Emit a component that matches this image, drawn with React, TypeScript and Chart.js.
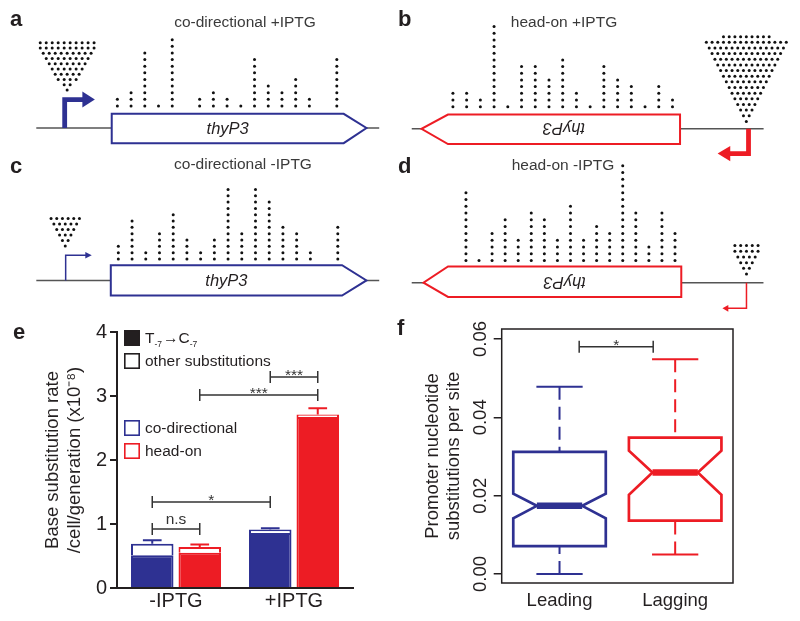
import React, { useEffect, useRef } from "react";
import { Chart, registerables } from "chart.js";

Chart.register(...registerables);

const FONT = '"Liberation Sans", Arial, Helvetica, sans-serif';
Chart.defaults.font.family = FONT;
Chart.defaults.color = "#231F20";

const INK = "#231F20";
const TITLE_INK = "#3a3a3a";
const DNA_INK = "#555555";
const BLUE = "#2E3192";
const RED = "#ED1C24";

// ---------- panels a–d : substitutions found at each promoter site (dots per column, site 0..16)
const countsCoPlus = [2, 3, 9, 1, 11, 0, 2, 3, 2, 1, 8, 4, 3, 5, 2, 0, 8];
const countsHeadPlus = [3, 3, 2, 13, 1, 7, 7, 5, 8, 3, 1, 7, 5, 4, 1, 4, 2];
const countsCoMinus = [3, 7, 2, 5, 8, 4, 2, 4, 12, 5, 12, 10, 6, 5, 2, 0, 6];
const countsHeadMinus = [11, 1, 5, 7, 4, 8, 7, 4, 9, 4, 6, 5, 15, 8, 3, 8, 5];
// promoter-strength glyphs: dots in each row, top row first
const glyphCoPlus = [10, 10, 9, 8, 7, 6, 5, 4, 2, 1];
const glyphHeadPlus = [9, 15, 14, 13, 12, 11, 10, 9, 8, 7, 6, 5, 4, 3, 2, 1];
const glyphCoMinus = [6, 5, 4, 3, 2, 1];
const glyphHeadMinus = [5, 5, 4, 3, 2, 1];

// ---------- panel e : base substitution rate (x10^-8 /cell/generation)
const conditions = ["-IPTG", "+IPTG"];
const coTC = [0.51, 0.86];
const coOther = [0.18, 0.055];
const coErr = [0.055, 0.02];
const headTC = [0.55, 2.67];
const headOther = [0.09, 0.04];
const headErr = [0.04, 0.1];
const rateTicks = [0, 1, 2, 3, 4];
// brackets: [datasetIndex, categoryIndex] ends, height in rate units
const rateBrackets = [
  { from: [1, 0], to: [3, 0], y: 0.922, label: "n.s" },
  { from: [1, 0], to: [1, 1], y: 1.344, label: "*" },
  { from: [3, 0], to: [3, 1], y: 3.016, label: "***" },
  { from: [1, 1], to: [3, 1], y: 3.297, label: "***" },
];

// ---------- panel f : promoter nucleotide substitutions per site
const strands = ["Leading", "Lagging"];
const whiskerLow = [0.0, 0.005];
const quartile1 = [0.0071, 0.0136];
const notchLow = [0.0142, 0.0202];
const medians = [0.0174, 0.0259];
const notchHigh = [0.0205, 0.0315];
const quartile3 = [0.0312, 0.0348];
const whiskerHigh = [0.0478, 0.0548];
const siteTicks = [0, 0.02, 0.04, 0.06];
const strandBracket = { from: 0.17, to: 0.81, y: 0.058, label: "*" };

type Box = { left: number; top: number; width: number; height: number };

type GeneSpec = {
  box: Box;
  letter: string;
  letterAt: [number, number];
  title: string;
  titleAt: [number, number];
  counts: number[];
  glyph: number[];
  color: string;
  headOn: boolean;
  strong: boolean;
  xRange: [number, number];
  yRange: [number, number];
  dna: { from: number; to: number; y: number };
  gene: { tail: number; shoulder: number; tip: number; top: number; bottom: number };
  promoter: { x: number; barY: number; base: number; tip: number; half: number };
  tri: { cx: number; top: number; dx: number; dy: number };
};

const geneSpecs: GeneSpec[] = [
  {
    box: { left: 0, top: 0, width: 395, height: 150 },
    letter: "a",
    letterAt: [10, 26],
    title: "co-directional +IPTG",
    titleAt: [245, 23],
    counts: countsCoPlus,
    glyph: glyphCoPlus,
    color: BLUE,
    headOn: false,
    strong: true,
    xRange: [-8.264, 19.95],
    yRange: [-5.043, 16.386],
    dna: { from: -5.91, to: 19.09, y: -2.33 },
    gene: { tail: -0.41, shoulder: 16.5, tip: 18.16, top: -0.19, bottom: -4.61 },
    promoter: { x: -3.84, barY: 1.96, base: -2.55, tip: -1.64, half: 1.21 },
    tri: { cx: -3.66, top: 10.53, dx: 0.436, dy: 0.79 },
  },
  {
    box: { left: 395, top: 0, width: 405, height: 170 },
    letter: "b",
    letterAt: [3, 26],
    title: "head-on +IPTG",
    titleAt: [169, 23],
    counts: countsHeadPlus,
    glyph: glyphHeadPlus,
    color: RED,
    headOn: true,
    strong: true,
    xRange: [-3.929, 25],
    yRange: [-7.9, 16.386],
    dna: { from: -3.0, to: 22.64, y: -2.33 },
    gene: { tail: 16.55, shoulder: -0.36, tip: -2.29, top: -0.19, bottom: -4.61 },
    promoter: { x: 21.54, barY: -6.04, base: 20.21, tip: 19.29, half: 1.14 },
    tri: { cx: 21.38, top: 11.49, dx: 0.416, dy: 0.847 },
  },
  {
    box: { left: 0, top: 150, width: 395, height: 155 },
    letter: "c",
    letterAt: [10, 23],
    title: "co-directional -IPTG",
    titleAt: [243, 15],
    counts: countsCoMinus,
    glyph: glyphCoMinus,
    color: BLUE,
    headOn: false,
    strong: false,
    xRange: [-8.336, 19.879],
    yRange: [-5.64, 17.6],
    dna: { from: -5.98, to: 19.02, y: -2.39 },
    gene: { tail: -0.55, shoulder: 16.31, tip: 18.09, top: 0.01, bottom: -4.79 },
    promoter: { x: -3.84, barY: 1.6, base: -2.41, tip: -1.94, half: 0.52 },
    tri: { cx: -3.87, top: 7.4, dx: 0.414, dy: 0.87 },
  },
  {
    box: { left: 395, top: 150, width: 405, height: 170 },
    letter: "d",
    letterAt: [3, 23],
    title: "head-on -IPTG",
    titleAt: [168, 16],
    counts: countsHeadMinus,
    glyph: glyphHeadMinus,
    color: RED,
    headOn: true,
    strong: false,
    xRange: [-5.124, 25.26],
    yRange: [-7.21, 16.73],
    dna: { from: -4.15, to: 22.77, y: -2.28 },
    gene: { tail: 16.48, shoulder: -1.37, tip: -3.25, top: 0.11, bottom: -4.39 },
    promoter: { x: 21.47, barY: -6.08, base: 20.08, tip: 19.63, half: 0.49 },
    tri: { cx: 21.47, top: 3.21, dx: 0.443, dy: 0.845 },
  },
];

const dotPoints = (counts: number[]) =>
  counts.flatMap((n, site) => Array.from({ length: n }, (_, k) => ({ x: site, y: k + 1 })));

const glyphPoints = (rows: number[], t: GeneSpec["tri"]) =>
  rows.flatMap((n, r) =>
    Array.from({ length: n }, (_, j) => ({ x: t.cx + (j - (n - 1) / 2) * t.dx, y: t.top - r * t.dy }))
  );

function drawLetter(ctx: CanvasRenderingContext2D, letter: string, x: number, y: number) {
  ctx.save();
  ctx.font = `bold 22px ${FONT}`;
  ctx.fillStyle = INK;
  ctx.textAlign = "left";
  ctx.textBaseline = "alphabetic";
  ctx.fillText(letter, x, y);
  ctx.restore();
}

function geneMapPlugin(s: GeneSpec) {
  return {
    id: "geneMap",
    beforeDatasetsDraw(chart: any) {
      const ctx: CanvasRenderingContext2D = chart.ctx;
      const X = (v: number) => chart.scales.x.getPixelForValue(v);
      const Y = (v: number) => chart.scales.y.getPixelForValue(v);
      const g = s.gene;
      const p = s.promoter;
      ctx.save();
      // DNA line
      ctx.strokeStyle = DNA_INK;
      ctx.lineWidth = 1.5;
      ctx.beginPath();
      ctx.moveTo(X(s.dna.from), Y(s.dna.y));
      ctx.lineTo(X(s.dna.to), Y(s.dna.y));
      ctx.stroke();
      // promoter arrow
      ctx.strokeStyle = s.color;
      ctx.fillStyle = s.color;
      ctx.lineWidth = s.strong ? 4.8 : 1.5;
      ctx.lineJoin = "miter";
      ctx.lineCap = "butt";
      const dir = p.tip > p.base ? 1 : -1;
      ctx.beginPath();
      ctx.moveTo(X(p.x), Y(s.dna.y));
      ctx.lineTo(X(p.x), Y(p.barY));
      ctx.lineTo(X(p.base) + dir, Y(p.barY));
      ctx.stroke();
      ctx.beginPath();
      ctx.moveTo(X(p.base), Y(p.barY + p.half));
      ctx.lineTo(X(p.tip), Y(p.barY));
      ctx.lineTo(X(p.base), Y(p.barY - p.half));
      ctx.closePath();
      ctx.fill();
      // gene arrow
      ctx.beginPath();
      ctx.moveTo(X(g.tail), Y(g.top));
      ctx.lineTo(X(g.shoulder), Y(g.top));
      ctx.lineTo(X(g.tip), Y(s.dna.y));
      ctx.lineTo(X(g.shoulder), Y(g.bottom));
      ctx.lineTo(X(g.tail), Y(g.bottom));
      ctx.closePath();
      ctx.fillStyle = "#ffffff";
      ctx.fill();
      ctx.strokeStyle = s.color;
      ctx.lineWidth = 2;
      ctx.stroke();
      // gene name
      ctx.translate((X(g.tail) + X(g.shoulder)) / 2, Y(s.dna.y));
      if (s.headOn) ctx.rotate(Math.PI);
      ctx.font = `italic 16.5px ${FONT}`;
      ctx.textAlign = "center";
      ctx.textBaseline = "middle";
      ctx.fillStyle = INK;
      ctx.fillText("thyP3", 0, 1);
      ctx.restore();
    },
    afterDraw(chart: any) {
      const ctx: CanvasRenderingContext2D = chart.ctx;
      ctx.save();
      ctx.font = `15.5px ${FONT}`;
      ctx.fillStyle = TITLE_INK;
      ctx.textAlign = "center";
      ctx.textBaseline = "middle";
      ctx.fillText(s.title, s.titleAt[0], s.titleAt[1]);
      ctx.restore();
      drawLetter(ctx, s.letter, s.letterAt[0], s.letterAt[1]);
    },
  };
}

function geneConfig(s: GeneSpec): any {
  return {
    type: "scatter",
    data: {
      datasets: [
        { data: dotPoints(s.counts), pointRadius: 1.5, backgroundColor: "#111111", borderWidth: 0 },
        { data: glyphPoints(s.glyph, s.tri), pointRadius: 1.5, backgroundColor: "#111111", borderWidth: 0 },
      ],
    },
    options: {
      responsive: false,
      animation: false,
      events: [],
      layout: { padding: 0 },
      plugins: { legend: { display: false }, tooltip: { enabled: false } },
      scales: {
        x: { type: "linear", display: false, min: s.xRange[0], max: s.xRange[1] },
        y: { type: "linear", display: false, min: s.yRange[0], max: s.yRange[1] },
      },
    },
    plugins: [geneMapPlugin(s)],
  };
}

// ---------- panel e
const rateExtras = {
  id: "rateExtras",
  afterDatasetsDraw(chart: any) {
    const ctx: CanvasRenderingContext2D = chart.ctx;
    const y = chart.scales.y;
    const groups = [
      { ds: 1, tc: coTC, other: coOther, err: coErr, color: BLUE },
      { ds: 3, tc: headTC, other: headOther, err: headErr, color: RED },
    ];
    ctx.save();
    groups.forEach((g) => {
      chart.getDatasetMeta(g.ds).data.forEach((el: any, i: number) => {
        const top = y.getPixelForValue(g.tc[i] + g.other[i]);
        const end = y.getPixelForValue(g.tc[i] + g.other[i] + g.err[i]);
        const cap = el.width * 0.22;
        ctx.strokeStyle = g.color;
        ctx.lineWidth = 2;
        ctx.beginPath();
        ctx.moveTo(el.x, top);
        ctx.lineTo(el.x, end);
        ctx.moveTo(el.x - cap, end);
        ctx.lineTo(el.x + cap, end);
        ctx.stroke();
      });
    });
    // significance brackets
    ctx.strokeStyle = "#333333";
    ctx.fillStyle = "#333333";
    ctx.lineWidth = 1.5;
    ctx.font = `15.5px ${FONT}`;
    ctx.textAlign = "center";
    ctx.textBaseline = "alphabetic";
    rateBrackets.forEach((b) => {
      const x1 = chart.getDatasetMeta(b.from[0]).data[b.from[1]].x;
      const x2 = chart.getDatasetMeta(b.to[0]).data[b.to[1]].x;
      const yy = y.getPixelForValue(b.y);
      ctx.beginPath();
      ctx.moveTo(x1, yy);
      ctx.lineTo(x2, yy);
      ctx.moveTo(x1, yy - 6);
      ctx.lineTo(x1, yy + 6);
      ctx.moveTo(x2, yy - 6);
      ctx.lineTo(x2, yy + 6);
      ctx.stroke();
      const starOnly = /^\*+$/.test(b.label);
      ctx.fillText(b.label, (x1 + x2) / 2, starOnly ? yy + 3 : yy - 5);
    });
    ctx.restore();
  },
  afterDraw(chart: any) {
    const ctx: CanvasRenderingContext2D = chart.ctx;
    const { left, top } = chart.chartArea;
    const sx = left + 7;
    const tx = left + 28;
    const items = [
      { dy: -2, fill: INK, stroke: INK, text: null as string | null },
      { dy: 21, fill: "#ffffff", stroke: INK, text: "other substitutions" },
      { dy: 88, fill: "#ffffff", stroke: BLUE, text: "co-directional" },
      { dy: 111, fill: "#ffffff", stroke: RED, text: "head-on" },
    ];
    ctx.save();
    items.forEach((it) => {
      const sy = top + it.dy;
      ctx.fillStyle = it.fill;
      ctx.fillRect(sx, sy, 16, 16);
      ctx.strokeStyle = it.stroke;
      ctx.lineWidth = 1.6;
      ctx.strokeRect(sx + 0.8, sy + 0.8, 14.4, 14.4);
      ctx.fillStyle = INK;
      ctx.textAlign = "left";
      ctx.textBaseline = "middle";
      const cy = sy + 8.5;
      if (it.text) {
        ctx.font = `15.5px ${FONT}`;
        ctx.fillText(it.text, tx, cy);
      } else {
        let x = tx;
        const big = `15.5px ${FONT}`;
        const small = `8.5px ${FONT}`;
        const parts = [
          { t: "T", f: big, d: 0 },
          { t: "-7", f: small, d: 6 },
          { t: "\u2192", f: big, d: 0 },
          { t: "C", f: big, d: 0 },
          { t: "-7", f: small, d: 6 },
        ];
        parts.forEach((p) => {
          ctx.font = p.f;
          ctx.fillText(p.t, x, cy + p.d);
          x += ctx.measureText(p.t).width + (p.d ? 1 : 0);
        });
      }
    });
    ctx.restore();
    drawLetter(ctx, "e", 13, 38.5);
  },
};

function rateConfig(): any {
  return {
    type: "bar",
    data: {
      labels: conditions,
      datasets: [
        { label: "T-7→C-7 co-directional", data: coTC, stack: "co", backgroundColor: BLUE, borderColor: BLUE, borderWidth: 2 },
        { label: "other co-directional", data: coOther, stack: "co", backgroundColor: "#ffffff", borderColor: BLUE, borderWidth: 2 },
        { label: "T-7→C-7 head-on", data: headTC, stack: "head", backgroundColor: RED, borderColor: RED, borderWidth: 2 },
        { label: "other head-on", data: headOther, stack: "head", backgroundColor: "#ffffff", borderColor: RED, borderWidth: 2 },
      ],
    },
    options: {
      responsive: false,
      animation: false,
      events: [],
      layout: { padding: { left: 0, top: 32, right: 42, bottom: 0 } },
      datasets: { bar: { categoryPercentage: 0.805, barPercentage: 0.895 } },
      plugins: { legend: { display: false }, tooltip: { enabled: false } },
      scales: {
        x: {
          stacked: true,
          grid: { display: false, drawTicks: false },
          border: { display: true, color: INK, width: 2 },
          ticks: { font: { size: 20 }, color: INK, padding: 1.5 },
          afterFit: (s: any) => {
            s.height = 33;
          },
        },
        y: {
          stacked: true,
          min: 0,
          max: 4,
          afterBuildTicks: (s: any) => {
            s.ticks = rateTicks.map((v) => ({ value: v }));
          },
          grid: { display: true, drawOnChartArea: false, drawTicks: true, tickLength: 7, color: INK, lineWidth: 2 },
          border: { display: true, color: INK, width: 2 },
          ticks: { font: { size: 20 }, color: INK, padding: 3 },
          title: {
            display: true,
            text: ["Base substitution rate", "/cell/generation (x10\u207B\u2078)"],
            font: { size: 18.5, lineHeight: 1.2 },
            color: INK,
            padding: { top: 42, bottom: 0 },
          },
          afterFit: (s: any) => {
            s.width = 117;
          },
        },
      },
    },
    plugins: [rateExtras],
  };
}

// ---------- panel f
const notchedBoxes = {
  id: "notchedBoxes",
  afterDatasetsDraw(chart: any) {
    const ctx: CanvasRenderingContext2D = chart.ctx;
    const ca = chart.chartArea;
    const y = chart.scales.y;
    const x = chart.scales.x;
    const Y = (v: number) => y.getPixelForValue(v);
    const colors = [BLUE, RED];
    ctx.save();
    chart.getDatasetMeta(0).data.forEach((el: any, i: number) => {
      const cx = el.x;
      const hw = el.width / 2;
      const nw = hw * 0.49;
      ctx.strokeStyle = colors[i];
      // whiskers
      ctx.lineWidth = 2;
      ctx.setLineDash([13, 7]);
      ctx.beginPath();
      ctx.moveTo(cx, Y(whiskerHigh[i]));
      ctx.lineTo(cx, Y(quartile3[i]));
      ctx.moveTo(cx, Y(whiskerLow[i]));
      ctx.lineTo(cx, Y(quartile1[i]));
      ctx.stroke();
      ctx.setLineDash([]);
      ctx.beginPath();
      ctx.moveTo(cx - hw / 2, Y(whiskerHigh[i]));
      ctx.lineTo(cx + hw / 2, Y(whiskerHigh[i]));
      ctx.moveTo(cx - hw / 2, Y(whiskerLow[i]));
      ctx.lineTo(cx + hw / 2, Y(whiskerLow[i]));
      ctx.stroke();
      // notched box
      ctx.lineWidth = 2.7;
      ctx.lineJoin = "miter";
      ctx.beginPath();
      ctx.moveTo(cx - hw, Y(quartile3[i]));
      ctx.lineTo(cx + hw, Y(quartile3[i]));
      ctx.lineTo(cx + hw, Y(notchHigh[i]));
      ctx.lineTo(cx + nw, Y(medians[i]));
      ctx.lineTo(cx + hw, Y(notchLow[i]));
      ctx.lineTo(cx + hw, Y(quartile1[i]));
      ctx.lineTo(cx - hw, Y(quartile1[i]));
      ctx.lineTo(cx - hw, Y(notchLow[i]));
      ctx.lineTo(cx - nw, Y(medians[i]));
      ctx.lineTo(cx - hw, Y(notchHigh[i]));
      ctx.closePath();
      ctx.stroke();
      // median
      ctx.lineWidth = 6.5;
      ctx.lineCap = "butt";
      ctx.beginPath();
      ctx.moveTo(cx - nw, Y(medians[i]));
      ctx.lineTo(cx + nw, Y(medians[i]));
      ctx.stroke();
    });
    // frame
    ctx.strokeStyle = INK;
    ctx.lineWidth = 1.5;
    ctx.strokeRect(ca.left, ca.top, ca.right - ca.left, ca.bottom - ca.top);
    // bracket
    const b = strandBracket;
    const x1 = x.getPixelForValue(b.from);
    const x2 = x.getPixelForValue(b.to);
    const yy = Y(b.y);
    ctx.strokeStyle = "#333333";
    ctx.lineWidth = 1.5;
    ctx.beginPath();
    ctx.moveTo(x1, yy);
    ctx.lineTo(x2, yy);
    ctx.moveTo(x1, yy - 6);
    ctx.lineTo(x1, yy + 6);
    ctx.moveTo(x2, yy - 6);
    ctx.lineTo(x2, yy + 6);
    ctx.stroke();
    ctx.fillStyle = "#333333";
    ctx.font = `15.5px ${FONT}`;
    ctx.textAlign = "center";
    ctx.textBaseline = "alphabetic";
    ctx.fillText(b.label, (x1 + x2) / 2, yy + 3);
    ctx.restore();
  },
  afterDraw(chart: any) {
    drawLetter(chart.ctx, "f", 2, 35);
  },
};

function strandConfig(): any {
  return {
    type: "bar",
    data: {
      labels: strands,
      datasets: [
        {
          label: "IQR",
          data: strands.map((_, i) => [quartile1[i], quartile3[i]]),
          backgroundColor: "rgba(0,0,0,0)",
          borderWidth: 0,
          barPercentage: 0.8,
          categoryPercentage: 1,
        },
      ],
    },
    options: {
      responsive: false,
      animation: false,
      events: [],
      layout: { padding: { left: 0, top: 29, right: 67, bottom: 0 } },
      plugins: { legend: { display: false }, tooltip: { enabled: false } },
      scales: {
        x: {
          grid: { display: false, drawTicks: false },
          border: { display: false },
          ticks: { font: { size: 18.5 }, color: INK, padding: 7 },
          afterFit: (s: any) => {
            s.height = 38;
          },
        },
        y: {
          min: -0.0023,
          max: 0.06255,
          afterBuildTicks: (s: any) => {
            s.ticks = siteTicks.map((v) => ({ value: v }));
          },
          grid: { display: true, drawOnChartArea: false, drawTicks: true, tickLength: 8, color: INK, lineWidth: 1.5 },
          border: { display: false },
          ticks: {
            font: { size: 18.5 },
            color: INK,
            minRotation: 90,
            maxRotation: 90,
            crossAlign: "center",
            padding: -5,
            callback: (v: any) => Number(v).toFixed(2),
          },
          title: {
            display: true,
            text: ["Promoter nucleotide", "substitutions per site"],
            font: { size: 18.5, lineHeight: 1.1 },
            color: INK,
            padding: { top: 28, bottom: 0 },
          },
          afterFit: (s: any) => {
            s.width = 106.7;
          },
        },
      },
    },
    plugins: [notchedBoxes],
  };
}

function ChartCanvas({ box, build }: { box: Box; build: () => any }) {
  const ref = useRef<HTMLCanvasElement | null>(null);
  useEffect(() => {
    if (!ref.current) return;
    const chart = new Chart(ref.current, build());
    return () => chart.destroy();
  }, []);
  return (
    <canvas
      ref={ref}
      width={box.width}
      height={box.height}
      style={{ position: "absolute", left: box.left, top: box.top, width: box.width, height: box.height }}
    />
  );
}

export default function App() {
  return (
    <div
      style={{
        position: "absolute",
        left: 0,
        top: 0,
        width: 800,
        height: 621,
        background: "#ffffff",
        overflow: "hidden",
      }}
    >
      {geneSpecs.map((s) => (
        <ChartCanvas key={s.letter} box={s.box} build={() => geneConfig(s)} />
      ))}
      <ChartCanvas box={{ left: 0, top: 300, width: 395, height: 321 }} build={rateConfig} />
      <ChartCanvas box={{ left: 395, top: 300, width: 405, height: 321 }} build={strandConfig} />
    </div>
  );
}
